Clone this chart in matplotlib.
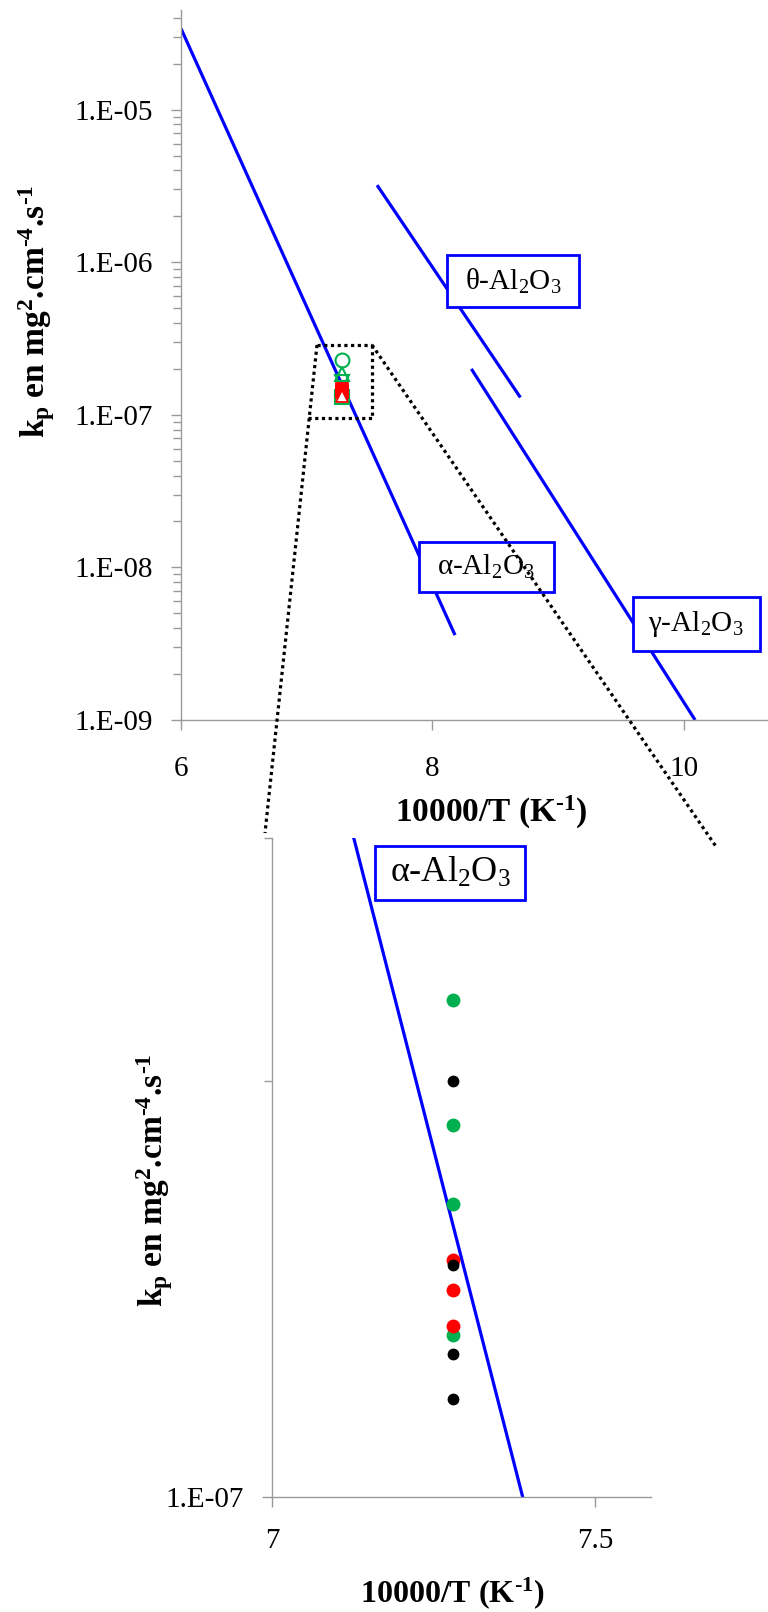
import matplotlib
matplotlib.use("Agg")
import matplotlib.pyplot as plt
import numpy as np
from matplotlib.ticker import LogLocator, FuncFormatter, MultipleLocator, NullFormatter
from matplotlib.patches import Rectangle
from matplotlib.lines import Line2D

plt.rcParams['font.family'] = ['Liberation Serif', 'DejaVu Serif']
plt.rcParams['mathtext.fontset'] = 'custom'
plt.rcParams['mathtext.rm'] = 'Liberation Serif'
plt.rcParams['mathtext.it'] = 'Liberation Serif:italic'
plt.rcParams['mathtext.bf'] = 'Liberation Serif:bold'

# ---------------- data ----------------
alpha_x = [6.0, 8.18]
alpha_kp = [3.4e-5, 3.6e-9]
theta_x = [7.56, 8.70]
theta_kp = [3.2e-6, 1.3e-7]
gamma_x = [8.31, 10.09]
gamma_kp = [2.0e-7, 1.0e-9]

x_meas = 7.28
green_kp = [2.29e-7, 1.86e-7, 1.63e-7, 1.31e-7]
red_kp = [1.485e-7, 1.413e-7, 1.329e-7]
black_kp = [2.00e-7, 1.472e-7, 1.27e-7, 1.178e-7]

top_green_markers = ['o', '^', 'v', 's']
top_red_markers = ['s', 's', '^']
top_red_filled = [True, True, False]

phase_labels = ['θ-Al$_2$O$_3$', 'α-Al$_2$O$_3$', 'γ-Al$_2$O$_3$']
top_xticks = [6, 8, 10]
bottom_xticks = [7, 7.5]
xlabel = '10000/T (K$^{\\mathbf{\u2010}\\mathbf{1}}$)'
ylabel = ('k$_{\\mathbf{p}}$ en mg$^{\\mathbf{2}}$.cm$^{\\mathbf{\u2010}\\mathbf{4}}$'
          '.s$^{\\mathbf{\u2010}\\mathbf{1}}$')

BLUE = '#0000FF'
GREEN = '#00B050'
RED = '#FF0000'
GRAY = '#9a9a9a'

W, H = 768, 1612
fig = plt.figure(figsize=(W / 100, H / 100), dpi=100)


def fx(x):
    return x / W


def fy(y):
    return 1 - y / H


ax1 = fig.add_axes([fx(181), fy(720), 587 / W, 710 / H])
ax2 = fig.add_axes([fx(272), fy(1497), 379 / W, 659 / H])


def ylab(v, pos):
    if v <= 0:
        return ''
    e = int(round(np.log10(v)))
    return f"1.E{e:03d}"


for ax in (ax1, ax2):
    ax.set_yscale('log')
    for s in ('top', 'right'):
        ax.spines[s].set_visible(False)
    for s in ('left', 'bottom'):
        ax.spines[s].set_color(GRAY)
        ax.spines[s].set_linewidth(1.0)
    ax.yaxis.set_major_locator(LogLocator(base=10, numticks=20))
    ax.yaxis.set_minor_locator(LogLocator(base=10, subs=np.arange(2, 10), numticks=20))
    ax.yaxis.set_major_formatter(FuncFormatter(ylab))
    ax.yaxis.set_minor_formatter(NullFormatter())
    ax.tick_params(axis='both', which='major', direction='out', length=7, width=1.0,
                   color=GRAY, labelsize=21, labelcolor='black')
    ax.tick_params(axis='y', which='minor', direction='out', length=5.5, width=1.0, color=GRAY)
    ax.tick_params(axis='y', which='major', pad=13)
    ax.patch.set_alpha(0)

# --- top chart ---
ax1.set_xlim(6, 10.67)
ax1.set_ylim(1e-9, 4.5e-5)
ax1.set_xticks(top_xticks)
ax1.set_xticklabels([str(t) for t in top_xticks])
ax1.tick_params(axis='x', which='major', pad=19)
for xs, ks in ((alpha_x, alpha_kp), (theta_x, theta_kp), (gamma_x, gamma_kp)):
    ax1.plot(xs, ks, color=BLUE, lw=2.3, solid_capstyle='butt', zorder=2)
for k, m in zip(green_kp, top_green_markers):
    ax1.plot([x_meas], [k], marker=m, ms=10, mfc='none', mec=GREEN, mew=1.5,
             ls='none', zorder=3)
for k, m, f in zip(red_kp, top_red_markers, top_red_filled):
    ax1.plot([x_meas], [k], marker=m, ms=9 if m == 's' else 8,
             mfc=RED if f else 'white', mec=RED, mew=1.3, ls='none', zorder=4)
ax1.set_xlabel(xlabel, fontsize=24, fontweight='bold')
ax1.xaxis.set_label_coords((491 - 181) / 587, (720 - 812) / 710)
ax1.xaxis.label.set_va('center')
ax1.set_ylabel(ylabel, fontsize=24, fontweight='bold')
ax1.yaxis.set_label_coords((37 - 181) / 587, (720 - 311) / 710)
ax1.yaxis.label.set_va('center')

# --- bottom (zoom) chart ---
ax2.set_xlim(7, 7.587)
ax2.set_ylim(1e-7, 3e-7)
ax2.set_xticks(bottom_xticks)
ax2.set_xticklabels([f"{t:g}" for t in bottom_xticks])
ax2.tick_params(axis='x', which='major', pad=15)
ax2.plot(alpha_x, alpha_kp, color=BLUE, lw=2.3, zorder=2)
ax2.plot([x_meas] * len(green_kp), green_kp, 'o', ms=10, color=GREEN, mec='none', zorder=3)
ax2.plot([x_meas] * len(red_kp), red_kp, 'o', ms=10, color=RED, mec='none', zorder=4)
ax2.plot([x_meas] * len(black_kp), black_kp, 'o', ms=8.5, color='black', mec='none', zorder=5)
ax2.set_xlabel(xlabel, fontsize=23, fontweight='bold')
ax2.xaxis.set_label_coords((452 - 272) / 379, (1497 - 1593) / 659)
ax2.xaxis.label.set_va('center')
ax2.set_ylabel(ylabel, fontsize=24, fontweight='bold')
ax2.yaxis.set_label_coords((155 - 272) / 379, (1497 - 1180) / 659)
ax2.yaxis.label.set_va('center')

# --- label boxes (figure pixel positions: center x, center y, width, height, fontsize) ---
boxes = [
    (phase_labels[0], 513, 281, 132, 52, 21),
    (phase_labels[1], 486, 567, 135, 50, 21),
    (phase_labels[2], 696, 624, 127, 54, 21),
    (phase_labels[1], 450, 873, 150, 54, 26),
]
for txt, cx, cy, w, h, fs in boxes:
    fig.add_artist(Rectangle((fx(cx - w / 2), fy(cy + h / 2)), w / W, h / H,
                             transform=fig.transFigure, facecolor='white',
                             edgecolor=BLUE, lw=2.0, zorder=3))
    fig.text(fx(cx), fy(cy), txt, ha='center', va='center', fontsize=fs, zorder=4)

# --- dotted zoom frame and connector lines ---
dot_kw = dict(color='black', lw=2.3, linestyle=(0, (1, 1.1)), dash_capstyle='butt',
              transform=fig.transFigure, zorder=6)
segments = [
    [(317, 345), (265, 833)],            # left connector through frame
    [(317, 345), (372, 345)],            # top edge
    [(372, 345), (372, 418)],            # right edge
    [(308, 418), (372, 418)],            # bottom edge
    [(372, 345), (717, 848)],            # right connector
]
for seg in segments:
    xs = [fx(p[0]) for p in seg]
    ys = [fy(p[1]) for p in seg]
    fig.add_artist(Line2D(xs, ys, **dot_kw))

fig.savefig('out.png', dpi=100)
